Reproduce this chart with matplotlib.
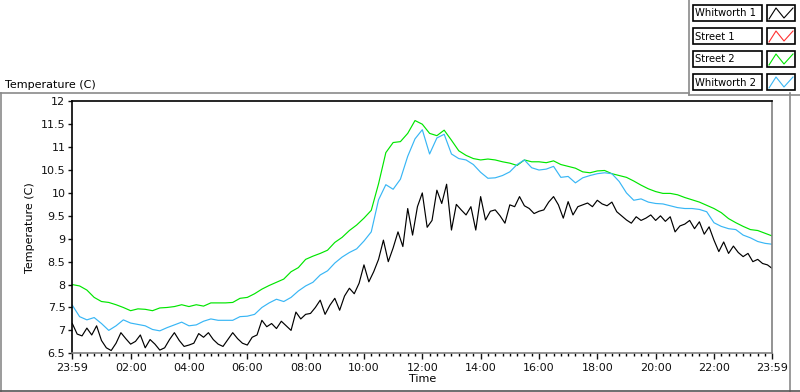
import numpy as np
import matplotlib
matplotlib.use("Agg")
import matplotlib.pyplot as plt
from matplotlib.patches import Rectangle
from matplotlib.lines import Line2D
from matplotlib.ticker import MultipleLocator

# Temperaturen (C), Street 2 und Whitworth 2 alle 15 Minuten, Whitworth 1 alle 10 Minuten
street2 = [8.00, 7.97, 7.88, 7.72, 7.63, 7.61, 7.56, 7.50, 7.43, 7.47, 7.46, 7.43,
           7.49, 7.50, 7.52, 7.56, 7.52, 7.56, 7.53, 7.60, 7.60, 7.60, 7.61, 7.70,
           7.72, 7.80, 7.90, 7.98, 8.05, 8.12, 8.28, 8.37, 8.55, 8.62, 8.68, 8.75,
           8.92, 9.03, 9.18, 9.30, 9.45, 9.62, 10.20, 10.88, 11.10, 11.12, 11.30, 11.58,
           11.50, 11.30, 11.25, 11.37, 11.15, 10.92, 10.82, 10.75, 10.72, 10.74, 10.72, 10.68,
           10.65, 10.60, 10.72, 10.68, 10.68, 10.66, 10.70, 10.62, 10.58, 10.54, 10.46, 10.44,
           10.48, 10.49, 10.42, 10.38, 10.34, 10.26, 10.17, 10.09, 10.03, 9.99, 9.99, 9.96,
           9.90, 9.85, 9.80, 9.73, 9.66, 9.57, 9.44, 9.35, 9.27, 9.20, 9.18, 9.12, 9.06]

whitworth2 = [7.55, 7.30, 7.23, 7.28, 7.15, 7.00, 7.10, 7.23, 7.16, 7.13, 7.10, 7.02,
              6.99, 7.06, 7.12, 7.18, 7.10, 7.12, 7.20, 7.25, 7.22, 7.22, 7.22, 7.30,
              7.31, 7.35, 7.50, 7.60, 7.68, 7.63, 7.72, 7.86, 7.97, 8.05, 8.21, 8.30,
              8.47, 8.60, 8.70, 8.78, 8.95, 9.15, 9.85, 10.18, 10.08, 10.30, 10.80, 11.18,
              11.38, 10.85, 11.20, 11.28, 10.85, 10.75, 10.72, 10.62, 10.45, 10.32, 10.33, 10.38,
              10.46, 10.62, 10.72, 10.55, 10.50, 10.52, 10.58, 10.34, 10.36, 10.22, 10.33, 10.38,
              10.42, 10.44, 10.42, 10.25, 10.00, 9.84, 9.87, 9.80, 9.77, 9.76, 9.72, 9.68,
              9.66, 9.66, 9.64, 9.59, 9.35, 9.27, 9.22, 9.20, 9.08, 9.02, 8.94, 8.90, 8.88]

whitworth1 = [7.15, 6.92, 6.88, 7.05, 6.90, 7.10, 6.78, 6.62, 6.56, 6.72, 6.95, 6.82,
              6.70, 6.76, 6.90, 6.62, 6.80, 6.70, 6.57, 6.62, 6.80, 6.95, 6.78, 6.65,
              6.68, 6.72, 6.93, 6.85, 6.95, 6.80, 6.70, 6.65, 6.80, 6.95, 6.82, 6.72,
              6.68, 6.85, 6.90, 7.22, 7.08, 7.15, 7.04, 7.20, 7.10, 7.00, 7.40, 7.25,
              7.35, 7.37, 7.50, 7.66, 7.35, 7.55, 7.70, 7.44, 7.75, 7.92, 7.80, 8.03,
              8.43, 8.06, 8.28, 8.55, 8.97, 8.50, 8.80, 9.15, 8.83, 9.66, 9.08, 9.70,
              10.00, 9.25, 9.40, 10.06, 9.77, 10.19, 9.19, 9.75, 9.63, 9.52, 9.70, 9.19,
              9.92, 9.41, 9.60, 9.63, 9.50, 9.34, 9.74, 9.70, 9.92, 9.72, 9.66, 9.55,
              9.60, 9.63, 9.80, 9.92, 9.74, 9.45, 9.81, 9.52, 9.70, 9.74, 9.78, 9.70,
              9.84, 9.76, 9.72, 9.80, 9.59, 9.50, 9.41, 9.34, 9.48, 9.40, 9.45, 9.52,
              9.40, 9.50, 9.38, 9.48, 9.15, 9.28, 9.32, 9.40, 9.22, 9.37, 9.10, 9.26,
              8.97, 8.72, 8.93, 8.68, 8.84, 8.70, 8.61, 8.68, 8.50, 8.55, 8.46, 8.43, 8.35]

street1 = []  # keine Daten im Diagramm

tick_hours = [0, 2, 4, 6, 8, 10, 12, 14, 16, 18, 20, 22, 24]
tick_labels = ["23:59", "02:00", "04:00", "06:00", "08:00", "10:00", "12:00",
               "14:00", "16:00", "18:00", "20:00", "22:00", "23:59"]

legend_names = ["Whitworth 1", "Street 1", "Street 2", "Whitworth 2"]
legend_colors = ["#000000", "#ff3030", "#00e600", "#38b6f5"]

W, H = 800, 392
fig = plt.figure(figsize=(8, 3.92), dpi=100)
plt.rcParams['font.family'] = ['DejaVu Sans']


def px(x, y):
    return x / W, 1 - y / H


ax = fig.add_axes([72.3 / W, 1 - 353.3 / H, 700 / W, 252 / H])

t15 = np.arange(len(street2)) * 0.25
t10 = np.arange(len(whitworth1)) / 6.0
ax.plot(t15, street2, color=legend_colors[2], lw=0.85)
ax.plot(t15, whitworth2, color=legend_colors[3], lw=0.85)
ax.plot(t10, whitworth1, color=legend_colors[0], lw=0.85)

ax.set_xlim(0, 24)
ax.set_ylim(6.5, 12)
ax.set_xticks(tick_hours)
ax.set_xticklabels(tick_labels)
ax.xaxis.set_minor_locator(MultipleLocator(0.25))
ax.yaxis.set_major_locator(MultipleLocator(0.5))
ax.set_yticklabels([f"{v:g}" for v in ax.get_yticks()])
ax.tick_params(axis='both', labelsize=8, colors='#111111', direction='out')
ax.tick_params(axis='x', which='major', length=4, width=1, pad=3)
ax.tick_params(axis='x', which='minor', length=2.2, width=1)
ax.tick_params(axis='y', which='major', length=3, width=1, pad=2)
ax.set_xlabel("Time", fontsize=8, labelpad=1)
ax.set_ylabel("Temperature (C)", fontsize=8, labelpad=4)

for s in ['left', 'top']:
    ax.spines[s].set_color('black')
for s in ['right', 'bottom']:
    ax.spines[s].set_color('#808080')
for s in ax.spines.values():
    s.set_linewidth(1.2)

# Titel oben links
fig.text(*px(5, 88), "Temperature (C)", fontsize=8, ha='left', va='baseline')

# graue Rahmenlinien wie im LabVIEW-Panel
gray = '#8a8a8a'
fig.add_artist(Line2D([0, 689 / W], [1 - 92.5 / H] * 2, color=gray, lw=1.2))
fig.add_artist(Line2D([1 / W] * 2, [1 - 92.5 / H, 0], color=gray, lw=1.2))
fig.add_artist(Line2D([789.5 / W] * 2, [1 - 92.5 / H, 0], color=gray, lw=1.2))
fig.add_artist(Line2D([689 / W] * 2, [1, 1 - 95 / H], color=gray, lw=1.2))
fig.add_artist(Line2D([689 / W, 1], [1 - 95 / H] * 2, color=gray, lw=1.2))
fig.add_artist(Line2D([0, 1], [1 / H] * 2, color='#555555', lw=1.2))

# Legende
for i, (name, col) in enumerate(zip(legend_names, legend_colors)):
    y0 = 5 + i * 23
    x0, y1 = px(693, y0 + 16)
    fig.add_artist(Rectangle((x0, y1), 69 / W, 16 / H, fill=False,
                             edgecolor='black', lw=1.2, transform=fig.transFigure))
    fig.text(*px(695, y0 + 8.5), name, fontsize=7.2, ha='left', va='center')
    x0, y1 = px(767, y0 + 16)
    fig.add_artist(Rectangle((x0, y1), 28 / W, 16 / H, fill=False,
                             edgecolor='black', lw=1.2, transform=fig.transFigure))
    zx = [769, 776, 784, 793]
    zy = [y0 + 14, y0 + 3, y0 + 13, y0 + 3]
    fig.add_artist(Line2D([x / W for x in zx], [1 - y / H for y in zy],
                          color=col, lw=0.8))

fig.savefig("out.png", dpi=100)
